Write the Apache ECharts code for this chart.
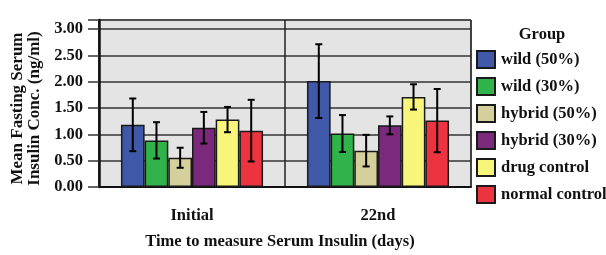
<!DOCTYPE html>
<html>
<head>
<meta charset="utf-8">
<script src="https://cdn.jsdelivr.net/npm/echarts@6/dist/echarts.min.js"></script>
<style>
  html, body { margin: 0; padding: 0; background: #fff; }
  #chart { width: 606px; height: 255px; }
</style>
</head>
<body>
<div id="chart"></div>
<script>
const categories = ['Initial', '22nd']
const groups = ['wild (50%)', 'wild (30%)', 'hybrid (50%)', 'hybrid (30%)', 'drug control', 'normal control']
const meanInitial = [1.18, 0.885, 0.555, 1.125, 1.28, 1.07]
const errInitial = [0.50, 0.345, 0.19, 0.30, 0.24, 0.585]
const mean22nd = [2.01, 1.015, 0.69, 1.17, 1.71, 1.26]
const err22nd = [0.70, 0.35, 0.30, 0.17, 0.24, 0.60]
const yTicks = [0, 0.5, 1.0, 1.5, 2.0, 2.5, 3.0]

const palette = ['#3f59a8', '#2fb34a', '#d5cf9b', '#7b2a7b', '#f8f67a', '#ee3340']
const font = 'Liberation Serif'
const gapPct = 0.236

const mychart = echarts.init(document.getElementById('chart'))

const barSeries = groups.map((name, i) => ({
  name,
  type: 'bar',
  barGap: 0,
  barCategoryGap: (gapPct * 100) + '%',
  data: [meanInitial[i], mean22nd[i]],
  itemStyle: { color: palette[i], borderColor: '#1a1a1a', borderWidth: 1.5 },
  animation: false
}))

const errSeries = groups.map((name, i) => ({
  name: name + ' err',
  type: 'custom',
  z: 5,
  animation: false,
  data: [[0, meanInitial[i], errInitial[i]], [1, mean22nd[i], err22nd[i]]],
  renderItem: (params, api) => {
    const cat = api.value(0)
    const m = api.value(1)
    const e = api.value(2)
    const center = api.coord([cat, m])
    const band = api.size([1, 0])[0]
    const groupW = band * (1 - gapPct)
    const barW = groupW / groups.length
    const x = center[0] - groupW / 2 + barW * (i + 0.5)
    const top = api.coord([cat, m + e])[1]
    const bot = api.coord([cat, m - e])[1]
    const cap = 3.5
    const style = { stroke: '#000', lineWidth: 2 }
    return {
      type: 'group',
      children: [
        { type: 'line', shape: { x1: x, y1: top, x2: x, y2: bot }, style },
        { type: 'line', shape: { x1: x - cap, y1: top, x2: x + cap, y2: top }, style },
        { type: 'line', shape: { x1: x - cap, y1: bot, x2: x + cap, y2: bot }, style }
      ]
    }
  }
}))

mychart.setOption({
  animation: false,
  title: {
    text: 'Group',
    left: 542,
    top: 26,
    textAlign: 'center',
    padding: 0,
    textStyle: { fontFamily: font, fontWeight: 'bold', fontSize: 16.5, color: '#111' }
  },
  legend: {
    data: groups,
    orient: 'vertical',
    left: 476,
    top: 50,
    padding: 0,
    itemWidth: 18,
    itemHeight: 17,
    itemGap: 8,
    icon: 'rect',
    textStyle: { fontFamily: font, fontWeight: 'bold', fontSize: 16.5, color: '#111', padding: [0, 0, 0, 1] }
  },
  grid: {
    left: 99,
    right: 135,
    top: 20,
    bottom: 63,
    show: true,
    backgroundColor: '#e4e4e4',
    borderColor: '#555',
    borderWidth: 1
  },
  xAxis: {
    type: 'category',
    data: categories,
    name: 'Time to measure Serum Insulin (days)',
    nameLocation: 'middle',
    nameGap: 46,
    nameTextStyle: { fontFamily: font, fontWeight: 'bold', fontSize: 16.5, color: '#111', padding: [0, 10, 0, 0] },
    axisLine: { lineStyle: { color: '#111', width: 2 } },
    axisTick: { alignWithLabel: true, length: 11, lineStyle: { color: '#333', width: 1.5 } },
    axisLabel: { margin: 20, fontFamily: font, fontWeight: 'bold', fontSize: 16.5, color: '#111' },
    splitLine: { show: true, lineStyle: { color: '#222', width: 1.5 } }
  },
  yAxis: {
    type: 'value',
    min: 0,
    max: 3.17,
    interval: 0.5,
    name: 'Mean Fasting Serum\nInsulin Conc. (ng/ml)',
    nameLocation: 'middle',
    nameGap: 52,
    nameTextStyle: { fontFamily: font, fontWeight: 'bold', fontSize: 17, color: '#111', lineHeight: 17, padding: [0, 10, 0, 0] },
    axisLine: { show: true, lineStyle: { color: '#111', width: 2.5 } },
    axisTick: { show: true, length: 11, lineStyle: { color: '#333', width: 1.5 } },
    axisLabel: {
      margin: 16,
      fontFamily: font,
      fontWeight: 'bold',
      fontSize: 16.5,
      color: '#111',
      formatter: v => yTicks.some(t => Math.abs(t - v) < 1e-6) ? v.toFixed(2) : ''
    },
    splitLine: { show: true, lineStyle: { color: '#333', width: 1.5 } }
  },
  series: [...barSeries, ...errSeries]
})
</script>
</body>
</html>
